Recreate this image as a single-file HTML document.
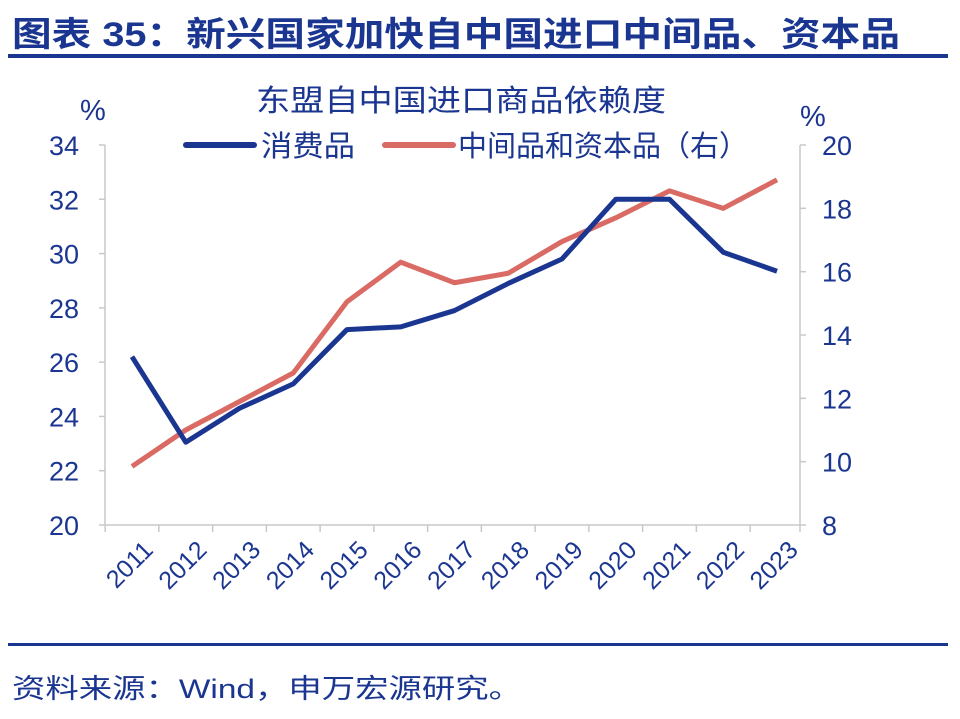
<!DOCTYPE html>
<html><head><meta charset="utf-8"><style>
body{margin:0;background:#fff;width:960px;height:714px;overflow:hidden;font-family:"Liberation Sans","Noto Sans CJK SC",sans-serif}
</style></head><body>
<svg width="960" height="714" xmlns="http://www.w3.org/2000/svg" font-family="'Liberation Sans','Noto Sans CJK SC',sans-serif">
<text x="12" y="46" font-size="34" font-weight="bold" fill="#1b3690" textLength="888" lengthAdjust="spacingAndGlyphs">图表 35：新兴国家加快自中国进口中间品、资本品</text>
<rect x="8" y="54" width="940" height="4" fill="#1b3690"/>
<text x="256" y="111" font-size="30" fill="#1b3690" textLength="410" lengthAdjust="spacingAndGlyphs">东盟自中国进口商品依赖度</text>
<text x="80" y="120" font-size="29" fill="#1b3690">%</text>
<text x="800" y="126" font-size="29" fill="#1b3690">%</text>
<g>
<line x1="186" y1="145" x2="254" y2="145" stroke="#1b3690" stroke-width="6" stroke-linecap="round"/>
<text x="261" y="156" font-size="29" fill="#1b3690" textLength="94" lengthAdjust="spacingAndGlyphs">消费品</text>
<line x1="385" y1="145" x2="453" y2="145" stroke="#d96b64" stroke-width="6" stroke-linecap="round"/>
<text x="458" y="156" font-size="29" fill="#1b3690" textLength="290" lengthAdjust="spacingAndGlyphs">中间品和资本品（右）</text>
</g>
<g id="axes"></g>
<g id="marks"></g>
<rect x="8" y="643" width="940" height="3" fill="#1b3690"/>
<text x="12" y="698" font-size="27" fill="#1b3690" textLength="510" lengthAdjust="spacingAndGlyphs">资料来源：Wind，申万宏源研究。</text>
</svg>
<script>
const categories=["2011","2012","2013","2014","2015","2016","2017","2018","2019","2020","2021","2022","2023"];
const consumerGoods=[26.2,23.05,24.3,25.2,27.2,27.3,27.9,28.9,29.8,32.0,32.0,30.05,29.35];
const intermediateGoods=[9.85,11.0,11.9,12.8,15.05,16.3,15.65,15.95,16.95,17.7,18.55,18.0,18.9];
const leftTicks=[20,22,24,26,28,30,32,34];
const rightTicks=[8,10,12,14,16,18,20];
const NS="http://www.w3.org/2000/svg";
const X0=105,X1=800,Y0=525,Y1=145;
const FIRST=132,LAST=777;
const step=(LAST-FIRST)/(categories.length-1);
const xs=i=>FIRST+step*i;
const yL=v=>Y0-(v-20)/(34-20)*(Y0-Y1);
const yR=v=>Y0-(v-8)/(20-8)*(Y0-Y1);
function mk(tag,attrs,parent,text){const e=document.createElementNS(NS,tag);for(const k in attrs)e.setAttribute(k,attrs[k]);if(text!==undefined)e.textContent=text;parent.appendChild(e);return e;}
const ax=document.getElementById('axes'),mg=document.getElementById('marks');
const gc="#c8c8c8";
let e=mk('line',{x1:X0,y1:Y1,x2:X0,y2:Y0,stroke:gc,'stroke-width':1.5},ax);


e=mk('line',{x1:X1,y1:Y1,x2:X1,y2:Y0,stroke:gc,'stroke-width':1.5},ax);


e=mk('line',{x1:X0,y1:Y0,x2:X1,y2:Y0,stroke:gc,'stroke-width':1.5},ax);


leftTicks.forEach(v=>{
 e=mk('line',{x1:X0-6,y1:yL(v),x2:X0,y2:yL(v),stroke:gc,'stroke-width':1.5},ax);
 
 
 e=mk('text',{x:X0-26,y:yL(v)+10,'font-size':27,fill:'#1b3690','text-anchor':'end'},ax,String(v));
 
 
});
rightTicks.forEach(v=>{
 e=mk('line',{x1:X1,y1:yR(v),x2:X1+6,y2:yR(v),stroke:gc,'stroke-width':1.5},ax);
 
 
 e=mk('text',{x:X1+22,y:yR(v)+10,'font-size':27,fill:'#1b3690'},ax,String(v));
 
 
});
for(let i=0;i<=categories.length;i++){
 const tx=Math.min(X1,Math.max(X0,xs(i)-step/2));
 e=mk('line',{x1:tx,y1:Y0,x2:tx,y2:Y0+7,stroke:gc,'stroke-width':1.5},ax);
 
 
}
categories.forEach((c,i)=>{
 const x=xs(i)+10,y=Y0+14;
 e=mk('text',{x:x,y:y,'font-size':25,fill:'#1b3690','text-anchor':'end',transform:`rotate(-45 ${x} ${y})`,'dominant-baseline':'hanging'},ax,c);
 
 
});
e=mk('polyline',{points:intermediateGoods.map((v,i)=>xs(i)+','+yR(v)).join(' '),fill:'none',stroke:'#d96b64','stroke-width':5,'stroke-linejoin':'round'},mg);


e=mk('polyline',{points:consumerGoods.map((v,i)=>xs(i)+','+yL(v)).join(' '),fill:'none',stroke:'#1b3690','stroke-width':5,'stroke-linejoin':'round'},mg);


</script>
</body></html>
